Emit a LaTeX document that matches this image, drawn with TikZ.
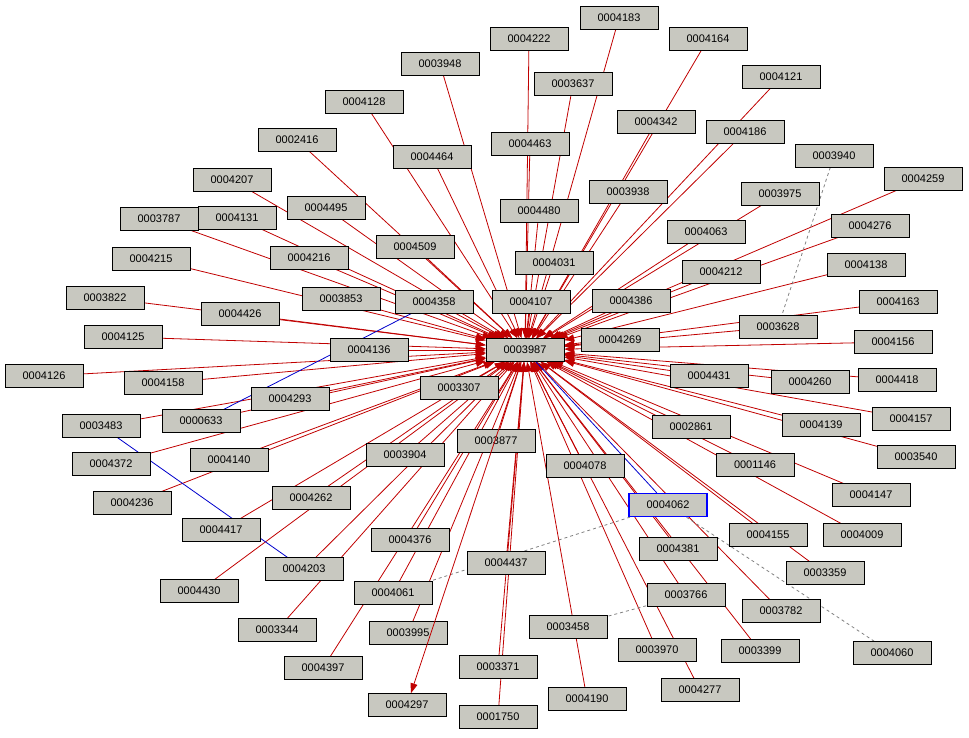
\documentclass[tikz,border=0pt]{standalone}
\usepackage{fontspec}
\setmainfont{Liberation Sans}
\usetikzlibrary{arrows.meta}
\definecolor{nodegray}{RGB}{200,200,192}
\definecolor{edgered}{RGB}{192,0,0}
\tikzset{
  box/.style={draw=black, fill=nodegray, minimum width=78pt, minimum height=23pt, inner sep=1pt, font=\fontsize{11}{13}\selectfont},
  redge/.style={draw=edgered, line width=0.8pt, -{Triangle[length=10pt,width=7pt]}, edgered},
  bedge/.style={draw=blue!80!black, line width=0.8pt},
  dedge/.style={draw=gray, dashed, line width=0.8pt}
}
\begin{document}
\begin{tikzpicture}[x=1pt,y=-1pt]
\useasboundingbox (0,0) rectangle (969,737);
\foreach \n/\x/\y in {
0004183/619/18,0004222/529/39,0004164/708/39,0003948/440/64,0003637/573/84,0004121/781/77,
0004128/364/102,0004342/656/122,0004186/745/132,0002416/297/140,0004464/432/157,0004463/530/144,
0003940/834/156,0004207/232/180,0004259/923/179,0003975/780/194,0003938/628/192,0004495/326/208,
0004131/237/218,0003787/159/219,0004480/539/211,0004063/706/232,0004276/870/226,0004509/415/247,
0004216/309/258,0004215/151/259,0004031/554/263,0004212/721/272,0004138/866/265,0003822/105/298,
0003853/341/299,0004358/434/302,0004107/531/302,0004386/631/301,0004163/898/302,0004426/240/314,
0003628/778/327,0004125/123/337,0004136/369/350,0004269/620/340,0004156/893/342,
0004126/44/376,0004158/163/383,0004431/709/376,0004260/810/382,0004418/897/380,0003307/459/388,
0004293/290/399,0003483/101/426,0000633/201/421,0004157/911/419,0004139/821/425,0002861/691/427,
0004372/111/464,0004140/229/460,0003904/405/455,0003877/496/441,0003540/916/457,0004078/585/466,
0001146/755/465,0004236/132/503,0004262/311/498,0004147/871/495,0004417/221/530,
0004155/768/535,0004009/862/535,0004376/410/540,0004381/678/549,0004437/506/563,0004203/304/569,
0004430/199/591,0004061/393/593,0003359/825/573,0003766/686/595,0003458/568/627,0003782/781/611,
0003344/277/630,0003995/408/633,0003970/657/650,0003399/760/651,0004060/892/653,0004397/323/668,
0003371/498/667,0004277/700/690,0004190/587/699,0004297/407/705,0001750/498/717}
  {\coordinate (p\n) at (\x,\y);}
\node[box] (c) at (525,350) {0003987};
\node[box, draw=blue, line width=1.5pt] (n0004062) at (668,505) {0004062};
\foreach \n in {
0004183,0004222,0004164,0003948,0003637,0004121,0004128,0004342,0004186,0002416,0004464,0004463,
0004207,0004259,0003975,0003938,0004495,0004131,0003787,0004480,0004063,0004276,0004509,
0004216,0004215,0004031,0004212,0004138,0003822,0003853,0004358,0004107,0004386,0004163,0004426,
0003628,0004125,0004136,0004269,0004156,0004126,0004158,0004431,0004260,0004418,0003307,
0004293,0003483,0000633,0004157,0004139,0002861,0004372,0004140,0003904,0003877,0003540,0004078,
0001146,0004236,0004262,0004147,0004417,0004155,0004009,0004376,0004381,0004437,0004203,
0004430,0004061,0003359,0003766,0003782,0003344,0003995,0003970,0003399,0004397,
0003371,0004277,0004190,0001750}
  {\draw[redge] (p\n) -- (c);}
\draw[bedge] (c) -- (n0004062);
\draw[bedge] (p0004358) -- (p0000633);
\draw[bedge] (p0003483) -- (p0004203);
\draw[dedge] (p0003940) -- (p0003628);
\draw[dedge] (p0004061) -- (n0004062);
\draw[dedge] (p0003458) -- (p0003766);
\draw[dedge] (n0004062) -- (p0004060);
\foreach \n in {
0004183,0004222,0004164,0003948,0003637,0004121,0004128,0004342,0004186,0002416,0004464,0004463,
0003940,0004207,0004259,0003975,0003938,0004495,0004131,0003787,0004480,0004063,0004276,0004509,
0004216,0004215,0004031,0004212,0004138,0003822,0003853,0004358,0004107,0004386,0004163,0004426,
0003628,0004125,0004136,0004269,0004156,0004126,0004158,0004431,0004260,0004418,0003307,
0004293,0003483,0000633,0004157,0004139,0002861,0004372,0004140,0003904,0003877,0003540,0004078,
0001146,0004236,0004262,0004147,0004417,0004155,0004009,0004376,0004381,0004437,0004203,
0004430,0004061,0003359,0003766,0003458,0003782,0003344,0003995,0003970,0003399,0004060,0004397,
0003371,0004277,0004190,0004297,0001750}
  {\node[box] (n\n) at (p\n) {\n};}
\node[box, draw=blue, line width=1.5pt] at (668,505) {0004062};
\node[box] (c2) at (525,350) {0003987};
\draw[redge] (c2) -- (n0004297);
\end{tikzpicture}
\end{document}
